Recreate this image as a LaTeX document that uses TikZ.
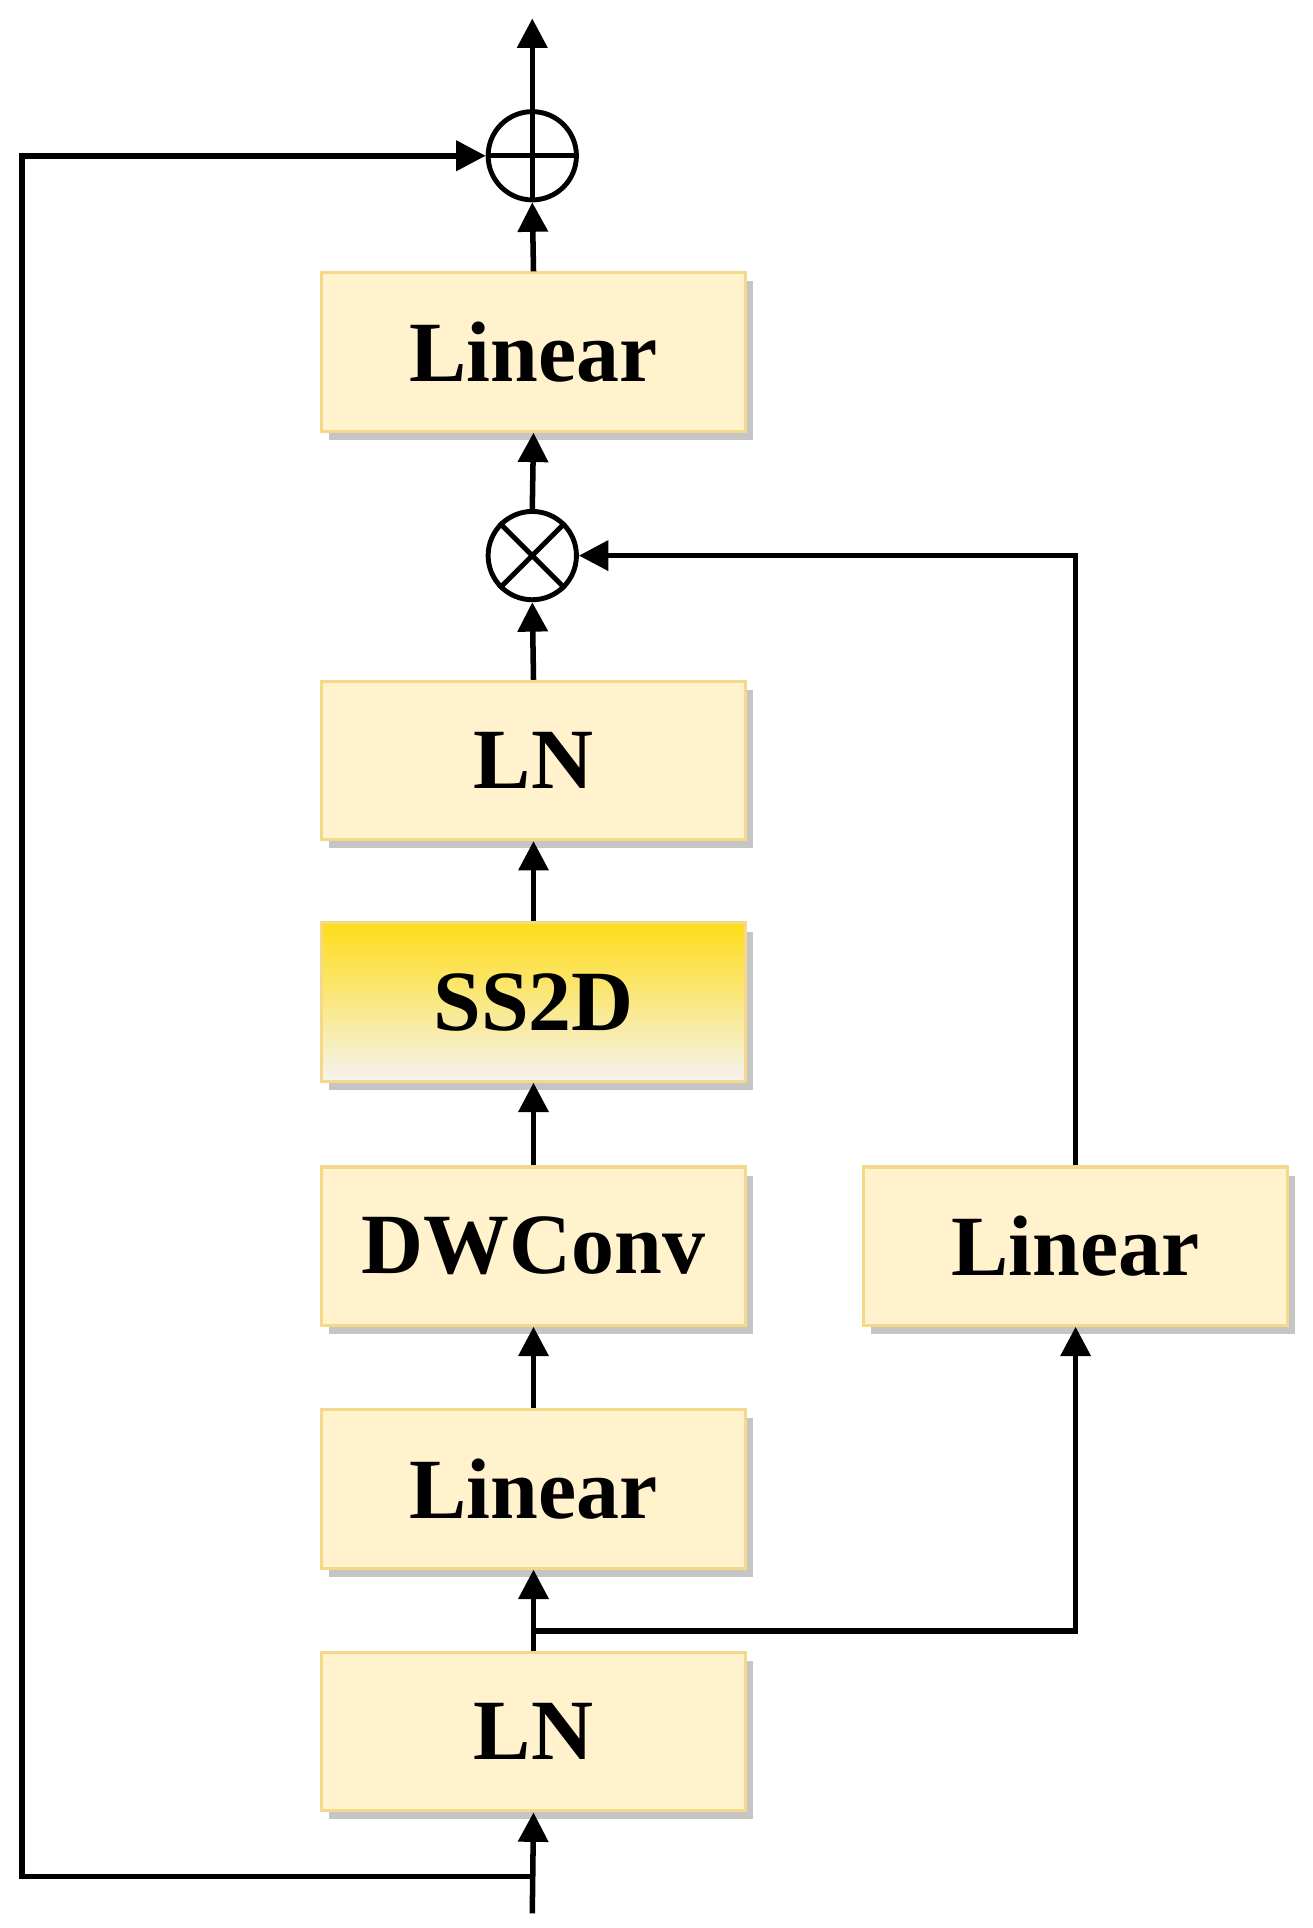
\documentclass[tikz,border=0pt]{standalone}
\usepackage{fontspec}
\setmainfont{Liberation Serif}
\usetikzlibrary{arrows.meta,shadows}
\definecolor{boxfill}{HTML}{FFF2CC}
\definecolor{boxline}{HTML}{F5D98A}
\begin{document}
\begin{tikzpicture}[x=1pt,y=-1pt,
  blk/.style={draw=boxline,line width=2.5pt,fill=boxfill,minimum width=346pt,minimum height=129pt,
    font=\fontsize{70}{70}\selectfont\bfseries,drop shadow={shadow xshift=6pt,shadow yshift=-7pt,fill=black!45,opacity=0.5}},
  arr/.style={line width=4.5pt,-{Triangle[length=24pt,width=24pt]}},
  op/.style={circle,draw,line width=4pt,minimum size=72pt,inner sep=0pt,fill=white}]
\useasboundingbox (0,0) rectangle (1070,1572);
\node[blk] (lin3) at (435,287) {Linear};
\node[blk] (ln2) at (435,620) {LN};
\node[blk,top color=yellow!70!orange!90,bottom color=boxfill!60!gray!20,draw=boxline] (ss) at (435,817) {SS2D};
\node[blk] (dw) at (435,1016) {DWConv};
\node[blk] (lin1) at (435,1214) {Linear};
\node[blk] (ln1) at (435,1412) {LN};
\node[blk] (lin2) at (877,1016) {Linear};
\node[op] (plus) at (434,127) {};
\draw[line width=4pt] (plus.north)--(plus.south) (plus.west)--(plus.east);
\node[op] (times) at (434,453) {};
\draw[line width=4pt] (times.north west)--(times.south east) (times.north east)--(times.south west);
\coordinate (in) at (434,1560);
\coordinate (sk) at (434,1530);
\coordinate (br) at (434,1330);
\coordinate (out) at (434,15);
\draw[arr] (in)--(ln1.south);
\draw[arr] (sk)--(18,1530)--(18,127)--(plus.west);
\draw[arr] (ln1.north)--(lin1.south);
\draw[arr] (br)--(877,1330)--(lin2.south);
\draw[arr] (lin1.north)--(dw.south);
\draw[arr] (dw.north)--(ss.south);
\draw[arr] (ss.north)--(ln2.south);
\draw[arr] (ln2.north)--(times.south);
\draw[arr] (lin2.north)--(877,453)--(times.east);
\draw[arr] (times.north)--(lin3.south);
\draw[arr] (lin3.north)--(plus.south);
\draw[arr] (plus.north)--(out);
\end{tikzpicture}
\end{document}
